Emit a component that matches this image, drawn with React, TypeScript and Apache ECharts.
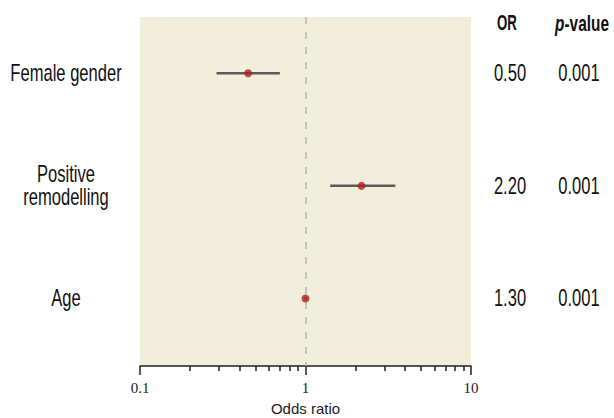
import React, { useEffect, useRef } from "react";
import * as echarts from "echarts";

const categories = ["Female gender", "Positive\nremodelling", "Age"];
const rowPos = [1, 2, 3];
const orPoint = [0.45, 2.18, 1.0];
const ciLow = [0.29, 1.41, 0.985];
const ciHigh = [0.7, 3.49, 1.015];
const orLabels = ["0.50", "2.20", "1.30"];
const pLabels = ["0.001", "0.001", "0.001"];
const majorTicks = [0.1, 1, 10];
const minorTicks = [0.2, 0.3, 0.4, 0.5, 0.6, 0.7, 0.8, 0.9, 2, 3, 4, 5, 6, 7, 8, 9];
const refValue = 1;

const SANS = "'Liberation Sans', Arial, sans-serif";
const LABEL_FONT = `23px ${SANS}`;
const NARROW_SCALE = 0.72;

export default function App() {
  const ref = useRef<HTMLDivElement>(null);
  useEffect(() => {
    if (!ref.current) return;
    const chart = echarts.init(ref.current, null, { renderer: "svg" });
    chart.setOption({
      animation: false,
      grid: {
        left: 140,
        right: 143,
        top: 17,
        bottom: 52,
        show: true,
        backgroundColor: "#f1eedc",
        borderWidth: 0,
        containLabel: false,
        outerBoundsMode: "none",
      },
      xAxis: [
        {
          type: "log",
          logBase: 10,
          min: 0.1,
          max: 10,
          position: "bottom",
          axisLine: { lineStyle: { color: "#222", width: 1.5 } },
          axisTick: { length: 9, lineStyle: { color: "#222", width: 1.5 }, customValues: majorTicks },
          axisLabel: {
            fontFamily: "'Liberation Serif', serif",
            fontSize: 15,
            color: "#222",
            margin: 14,
            customValues: majorTicks,
          },
          splitLine: { show: false },
          minorTick: { show: false },
          name: "Odds ratio",
          nameLocation: "middle",
          nameGap: 35,
          nameTextStyle: { fontFamily: SANS, fontSize: 15, color: "#222" },
        },
        {
          type: "log",
          logBase: 10,
          min: 0.1,
          max: 10,
          position: "bottom",
          offset: 0,
          axisLine: { show: false },
          axisTick: { length: 5, lineStyle: { color: "#222", width: 1.5 }, customValues: minorTicks },
          axisLabel: { show: false },
          splitLine: { show: false },
        },
      ],
      yAxis: {
        type: "value",
        inverse: true,
        min: 0.5,
        max: 3.6,
        axisLine: { show: false },
        axisTick: { show: false },
        axisLabel: { show: false },
        splitLine: { show: false },
      },
      series: [
        {
          type: "custom",
          xAxisIndex: 0,
          yAxisIndex: 0,
          data: rowPos.map((y, i) => [ciLow[i], ciHigh[i], y]),
          encode: { x: [0, 1], y: 2 },
          renderItem: (params: any, api: any) => {
            const a = api.coord([api.value(0), api.value(2)]);
            const b = api.coord([api.value(1), api.value(2)]);
            return {
              type: "line",
              shape: { x1: a[0], y1: a[1], x2: b[0], y2: b[1] },
              style: { stroke: "#5b5b5b", lineWidth: 2.5 },
            };
          },
          z: 2,
        },
        {
          type: "scatter",
          xAxisIndex: 0,
          yAxisIndex: 0,
          data: rowPos.map((y, i) => [orPoint[i], y]),
          symbolSize: 8,
          itemStyle: { color: "#b01e1e" },
          z: 3,
          markLine: {
            silent: true,
            symbol: "none",
            label: { show: false },
            lineStyle: { type: [7, 8], color: "#b4b4b4", width: 1.5 },
            data: [{ xAxis: refValue }],
            z: 1,
          },
        },
      ],
    });

    const rowY = rowPos.map((v) => chart.convertToPixel({ yAxisIndex: 0 }, v) as number);
    const narrowText = (text: string, x: number, y: number) => ({
      type: "text",
      x,
      y,
      scaleX: NARROW_SCALE,
      style: {
        text,
        align: "center",
        verticalAlign: "middle",
        font: LABEL_FONT,
        lineHeight: 23,
        fill: "#111",
      },
    });
    const graphics: any[] = [];
    rowY.forEach((y, i) => {
      graphics.push(narrowText(categories[i], 66, y));
      graphics.push(narrowText(orLabels[i], 510, y));
      graphics.push(narrowText(pLabels[i], 579, y));
    });
    graphics.push({
      type: "text",
      x: 507,
      y: 23,
      scaleX: 0.6,
      style: {
        text: "OR",
        align: "center",
        verticalAlign: "middle",
        font: `bold 22px ${SANS}`,
        fill: "#111",
      },
    });
    graphics.push({
      type: "text",
      x: 582,
      y: 23,
      scaleX: 0.7,
      style: {
        text: "{i|p}{b|-value}",
        align: "center",
        verticalAlign: "middle",
        fill: "#111",
        rich: {
          i: { fontFamily: SANS, fontSize: 22, fontWeight: "bold", fontStyle: "italic" },
          b: { fontFamily: SANS, fontSize: 22, fontWeight: "bold" },
        },
      },
    });
    chart.setOption({ graphic: graphics });

    return () => chart.dispose();
  }, []);
  return <div ref={ref} style={{ width: 614, height: 418, position: "absolute", left: 0, top: 0 }} />;
}
